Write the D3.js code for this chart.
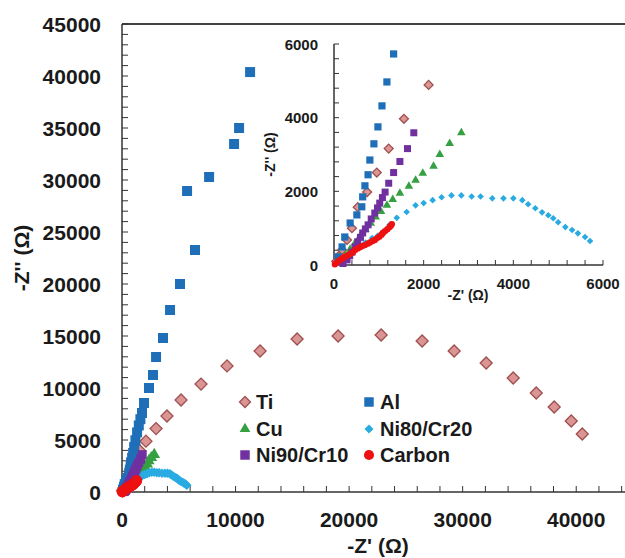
<!DOCTYPE html>
<html>
<head>
<meta charset="utf-8">
<script src="https://cdn.jsdelivr.net/npm/d3@7"></script>
<style>
  body { margin: 0; background: #fff; }
  text { font-family: "Liberation Sans", Arial, sans-serif; font-weight: bold; fill: #1a1a1a; }
</style>
</head>
<body>
<div id="chart"></div>
<script>
// Nyquist data, [Z', Z''] in ohm
const ti = [[50,100],[110,250],[180,410],[290,680],[400,1000],[530,1570],[740,1980],[955,2510],[1220,3160],[1560,3970],[2110,4890],[3000,6100],[3960,7310],[5200,8850],[6960,10380],[9250,12120],[12160,13560],[15420,14710],[19030,15000],[22820,15100],[26430,14520],[29250,13560],[32070,12400],[34450,10960],[36480,9520],[38060,8170],[39560,6830],[40530,5580]];
const al = [[90,220],[180,490],[240,760],[360,1140],[510,1360],[620,1580],[640,1850],[690,2150],[760,2450],[800,2850],[890,3290],[980,3750],[1070,4320],[1180,4970],[1330,5730],[1480,6400],[1620,7000],[1760,7600],[1940,8560],[2380,10000],[2730,11250],[3000,12980],[3610,14810],[4230,17500],[5110,20000],[6430,23270],[5730,28940],[7670,30290],[9870,33460],[10310,35000],[11280,40380]];
const cu = [[150,100],[250,260],[360,430],[470,600],[580,780],[700,960],[820,1130],[930,1300],[1050,1450],[1180,1620],[1310,1780],[1470,1950],[1670,2140],[1820,2300],[1980,2490],[2220,2680],[2360,3000],[2580,3300],[2840,3590]];
const ni80 = [[100,60],[250,200],[400,350],[550,480],[700,610],[850,730],[980,800],[1090,900],[1240,1090],[1400,1280],[1620,1440],[1820,1620],[2000,1680],[2200,1760],[2400,1840],[2620,1890],[2840,1890],[3070,1860],[3270,1860],[3530,1810],[3780,1810],[4000,1810],[4200,1760],[4330,1650],[4490,1540],[4640,1430],[4780,1350],[4890,1270],[5000,1160],[5160,1030],[5310,950],[5440,860],[5600,760],[5710,650]];
const ni90 = [[200,40],[290,140],[350,250],[400,350],[470,490],[530,630],[590,750],[640,870],[700,980],[760,1090],[830,1250],[910,1410],[970,1550],[1020,1680],[1080,1830],[1140,1980],[1220,2220],[1330,2510],[1470,2810],[1640,3160],[1780,3590]];
const carbon = [[20,20],[60,60],[100,110],[150,150],[200,190],[240,220],[300,260],[360,300],[420,340],[470,410],[530,450],[590,490],[640,520],[690,540],[750,580],[800,610],[860,650],[910,680],[960,730],[1010,770],[1060,820],[1090,870],[1140,920],[1190,970],[1240,1030],[1270,1070],[1290,1110]];

const mainXTicks = [0, 10000, 20000, 30000, 40000];
const mainYTicks = [0, 5000, 10000, 15000, 20000, 25000, 30000, 35000, 40000, 45000];
const insetTicks = [0, 2000, 4000, 6000];

// series in Excel order (later ones drawn on top)
const series = [
  { name: "Ti", data: ti, shape: "diamond", fill: "#d99694", stroke: "#a0504e", size: 72, inSize: 40, lgSize: 60 },
  { name: "Al", data: al, shape: "square", fill: "#1f6fb8", stroke: "none", size: 100, inSize: 52, lgSize: 90 },
  { name: "Cu", data: cu, shape: "triangle", fill: "#35a042", stroke: "none", size: 60, inSize: 32, lgSize: 50 },
  { name: "Ni80/Cr20", data: ni80, shape: "diamond", fill: "#29abe2", stroke: "none", size: 45, inSize: 22, lgSize: 40 },
  { name: "Ni90/Cr10", data: ni90, shape: "square", fill: "#7030a0", stroke: "none", size: 81, inSize: 49, lgSize: 90 },
  { name: "Carbon", data: carbon, shape: "circle", fill: "#ee1111", stroke: "none", size: 95, inSize: 32, lgSize: 80 },
];

const width = 625;
const height = 558;

var svg = d3.select("#chart").append("svg")
  .attr("width", width)
  .attr("height", height);

// main plot area (the right side of the original is cropped at 45000)
var x = d3.scaleLinear().domain([0, 45000]).range([122, 633]);
var y = d3.scaleLinear().domain([0, 45000]).range([492, 24]);

// inset
var xi = d3.scaleLinear().domain([0, 6000]).range([334, 603]);
var yi = d3.scaleLinear().domain([0, 6000]).range([265, 44]);

function symbolPath(shape, size) {
  const type = shape === "square" || shape === "diamond" ? d3.symbolSquare
    : shape === "triangle" ? d3.symbolTriangle : d3.symbolCircle;
  return d3.symbol().type(type).size(size)();
}

function drawPoints(g, s, sx, sy, size, filter) {
  const pts = filter ? s.data.filter(filter) : s.data;
  g.append("g")
    .selectAll("path")
    .data(pts)
    .join("path")
    .attr("d", symbolPath(s.shape, size))
    .attr("transform", (d) => `translate(${sx(d[0])},${sy(d[1])})` + (s.shape === "diamond" ? " rotate(45)" : ""))
    .attr("fill", s.fill)
    .attr("stroke", s.stroke)
    .attr("stroke-width", s.stroke === "none" ? 0 : 1.3);
}

// axis helper: inside ticks, minor = major / 5
function drawAxes(g, sx, sy, xMajor, yMajor, xMax, yMax, tick) {
  const xMinor = d3.range(0, xMax + 1, xMajor / 5);
  const yMinor = d3.range(0, yMax + 1, yMajor / 5);
  const y0 = sy(0), x0 = sx(0);

  g.append("g").selectAll("line").data(xMinor).join("line")
    .attr("x1", (d) => sx(d)).attr("x2", (d) => sx(d))
    .attr("y1", y0).attr("y2", y0 - tick)
    .attr("stroke", "#333").attr("stroke-width", 1);
  g.append("g").selectAll("line").data(yMinor).join("line")
    .attr("x1", x0).attr("x2", x0 + tick)
    .attr("y1", (d) => sy(d)).attr("y2", (d) => sy(d))
    .attr("stroke", "#333").attr("stroke-width", 1);

  g.append("line")
    .attr("x1", x0).attr("x2", sx(xMax)).attr("y1", y0).attr("y2", y0)
    .attr("stroke", "#333").attr("stroke-width", 1.5);
  g.append("line")
    .attr("x1", x0).attr("x2", x0).attr("y1", y0).attr("y2", sy(yMax))
    .attr("stroke", "#333").attr("stroke-width", 1.5);
}

// ---- main chart ----
const lyr_main = svg.append("g");

lyr_main.append("line")
  .attr("x1", 122).attr("x2", width).attr("y1", 24).attr("y2", 24)
  .attr("stroke", "#444").attr("stroke-width", 2);

drawAxes(lyr_main, x, y, 10000, 5000, 45000, 45000, 6);

lyr_main.append("g").selectAll("text").data(mainXTicks).join("text")
  .attr("x", (d) => x(d)).attr("y", 527)
  .attr("text-anchor", "middle").attr("font-size", "21px")
  .text((d) => d);

lyr_main.append("g").selectAll("text").data(mainYTicks).join("text")
  .attr("x", 101).attr("y", (d) => y(d) + 7.5)
  .attr("text-anchor", "end").attr("font-size", "21px")
  .text((d) => d);

lyr_main.append("text")
  .attr("x", 378).attr("y", 553)
  .attr("text-anchor", "middle").attr("font-size", "21px")
  .text("-Z' (\u03A9)");

lyr_main.append("text")
  .attr("transform", `translate(29,${(24 + 492) / 2}) rotate(-90)`)
  .attr("text-anchor", "middle").attr("font-size", "21px")
  .text("-Z'' (\u03A9)");

series.forEach((s) => drawPoints(lyr_main, s, x, y, s.size));

// ---- inset ----
const lyr_inset = svg.append("g");

drawAxes(lyr_inset, xi, yi, 2000, 2000, 6000, 6000, 5);

lyr_inset.append("g").selectAll("text").data(insetTicks).join("text")
  .attr("x", (d) => xi(d)).attr("y", 289)
  .attr("text-anchor", "middle").attr("font-size", "15px")
  .text((d) => d);

lyr_inset.append("g").selectAll("text").data(insetTicks).join("text")
  .attr("x", 318).attr("y", (d) => yi(d) + 5.5)
  .attr("text-anchor", "end").attr("font-size", "15px")
  .text((d) => d);

lyr_inset.append("text")
  .attr("x", 468).attr("y", 300)
  .attr("text-anchor", "middle").attr("font-size", "14px")
  .text("-Z' (\u03A9)");

lyr_inset.append("text")
  .attr("transform", `translate(275,${(44 + 265) / 2}) rotate(-90)`)
  .attr("text-anchor", "middle").attr("font-size", "14px")
  .text("-Z'' (\u03A9)");

series.forEach((s) =>
  drawPoints(lyr_inset, s, xi, yi, s.inSize, (d) => d[0] <= 6000 && d[1] <= 6000)
);

// ---- legend, two columns ----
const lyr_legend = svg.append("g");
const legendPos = [[245, 402], [369, 402], [245, 429], [369, 429], [245, 455], [369, 455]];

series.forEach((s, i) => {
  const [lx, ly] = legendPos[i];
  lyr_legend.append("path")
    .attr("d", symbolPath(s.shape, s.lgSize))
    .attr("transform", `translate(${lx},${ly})` + (s.shape === "diamond" ? " rotate(45)" : ""))
    .attr("fill", s.fill)
    .attr("stroke", s.stroke)
    .attr("stroke-width", s.stroke === "none" ? 0 : 1.3);
  lyr_legend.append("text")
    .attr("x", lx + 11).attr("y", ly + 7)
    .attr("font-size", "20px")
    .text(s.name);
});
</script>
</body>
</html>
